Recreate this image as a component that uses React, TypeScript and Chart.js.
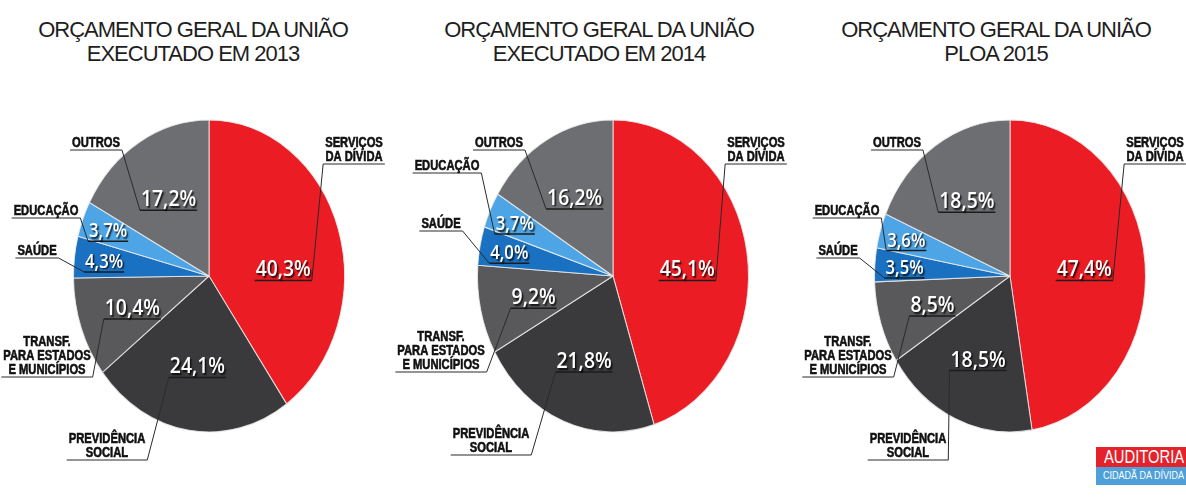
import React, { useEffect, useRef } from 'react';
import { Chart, registerables } from 'chart.js';

Chart.register(...registerables);

// ---------- DATA ----------
const categories = [
  'SERVIÇOS DA DÍVIDA',
  'PREVIDÊNCIA SOCIAL',
  'TRANSF. PARA ESTADOS E MUNICÍPIOS',
  'SAÚDE',
  'EDUCAÇÃO',
  'OUTROS',
];
const categoryLines = [
  ['SERVIÇOS', 'DA DÍVIDA'],
  ['PREVIDÊNCIA', 'SOCIAL'],
  ['TRANSF.', 'PARA ESTADOS', 'E MUNICÍPIOS'],
  ['SAÚDE'],
  ['EDUCAÇÃO'],
  ['OUTROS'],
];
const values2013 = [40.3, 24.1, 10.4, 4.3, 3.7, 17.2];
const values2014 = [45.1, 21.8, 9.2, 4.0, 3.7, 16.2];
const values2015 = [47.4, 18.5, 8.5, 3.5, 3.6, 18.5];
const titles2013 = ['ORÇAMENTO GERAL DA UNIÃO', 'EXECUTADO EM 2013'];
const titles2014 = ['ORÇAMENTO GERAL DA UNIÃO', 'EXECUTADO EM 2014'];
const titles2015 = ['ORÇAMENTO GERAL DA UNIÃO', 'PLOA 2015'];

// ---------- STYLE / LAYOUT ----------
const sliceColors = ['#ec1c24', '#3a3a3c', '#59595b', '#1a71c1', '#4ea5e5', '#6d6e71'];
const PIE_CY = 276;
const RX = 135;
const RY = 156;
const CANVAS_W = 470;
const CANVAS_H = 498;
const HALF = 235;

const labelFrac = [0.55, 0.58, 0.6, 0.78, 0.8, 0.58];
const labelAngleDeg: (number | null)[] = [85, null, null, null, null, null];
const pctFontSize = [22, 22, 22, 19, 19, 22];
const PCT_SX = 0.88;

type Ext = { dx: number; dy: number };
const extLayoutA: Ext[] = [
  { dx: 145, dy: -134 },
  { dx: -102, dy: 162 },
  { dx: -162, dy: 65 },
  { dx: -172, dy: -26 },
  { dx: -163, dy: -66 },
  { dx: -113, dy: -134 },
];
const extLayoutB: Ext[] = [
  { dx: 143, dy: -134 },
  { dx: -122, dy: 157 },
  { dx: -172, dy: 60 },
  { dx: -172, dy: -53 },
  { dx: -166, dy: -111 },
  { dx: -114, dy: -134 },
];

const fmt = (v: number) => v.toFixed(1).replace('.', ',') + '%';

const stretchPlugin = {
  id: 'stretch',
  beforeDatasetsDraw(chart: any) {
    const arc = chart.getDatasetMeta(0).data[0];
    if (!arc) return;
    const { x, y, outerRadius } = arc as any;
    const k = RY / outerRadius;
    const ctx = chart.ctx;
    ctx.save();
    ctx.translate(x, y);
    ctx.scale(1, k);
    ctx.translate(-x, -y);
  },
  afterDatasetsDraw(chart: any) {
    chart.ctx.restore();
  },
};

const labelsPlugin = {
  id: 'pieLabels',
  afterDraw(chart: any) {
    const ctx: CanvasRenderingContext2D = chart.ctx;
    const meta = chart.getDatasetMeta(0);
    const data: number[] = chart.data.datasets[0].data;
    const layout: Ext[] = chart.options.plugins.pieLabels.layout;
    const EXT_FONT = "bold 14px 'Liberation Sans', Arial, sans-serif";
    const EXT_SX = 0.8;
    const LINE_H = 14;
    const pctFont = (fs: number) => `600 ${fs}px 'Open Sans', sans-serif`;

    const items: any[] = [];
    meta.data.forEach((arc: any, i: number) => {
      const { x, y, startAngle, endAngle, outerRadius } = arc;
      const k = RY / outerRadius;
      const a =
        labelAngleDeg[i] != null
          ? ((labelAngleDeg[i] as number) - 90) * (Math.PI / 180)
          : (startAngle + endAngle) / 2;
      const px = x + Math.cos(a) * outerRadius * labelFrac[i];
      const py = y + Math.sin(a) * outerRadius * labelFrac[i] * k;
      const fs = pctFontSize[i];
      const txt = fmt(data[i]);
      ctx.font = pctFont(fs);
      const pw = ctx.measureText(txt).width * PCT_SX;
      const pBase = py + fs * 0.36;
      const pUnder = pBase + 4;

      const ext = layout[i];
      const lines = categoryLines[i];
      ctx.font = EXT_FONT;
      const widths = lines.map((l) => ctx.measureText(l).width * EXT_SX);
      const maxW = Math.max(...widths);
      const lx = x + ext.dx;
      const firstC = y + ext.dy;
      const lastBase = firstC + (lines.length - 1) * LINE_H + 5;
      const uy = lastBase + 3;
      const hw = maxW / 2 + 2;
      items.push({ px, py, pw, pBase, pUnder, fs, txt, lx, firstC, uy, hw, lines, right: ext.dx > 0 });
    });

    ctx.save();
    // leaders + underlines
    items.forEach((it) => {
      ctx.strokeStyle = '#2a2a2a';
      ctx.lineWidth = 1;
      ctx.beginPath();
      ctx.moveTo(it.lx - it.hw, it.uy);
      ctx.lineTo(it.lx + it.hw, it.uy);
      ctx.stroke();
      const pL = it.px - it.pw / 2 - 1;
      const pR = it.px + it.pw / 2 + 1;
      ctx.beginPath();
      if (it.right) {
        ctx.moveTo(it.lx - it.hw, it.uy);
        ctx.lineTo(pR, it.pUnder);
      } else {
        ctx.moveTo(it.lx + it.hw, it.uy);
        ctx.lineTo(pL, it.pUnder);
      }
      ctx.stroke();
      ctx.strokeStyle = '#1c1c1c';
      ctx.lineWidth = 1.5;
      ctx.beginPath();
      ctx.moveTo(pL, it.pUnder);
      ctx.lineTo(pR, it.pUnder);
      ctx.stroke();
    });
    // external texts
    ctx.fillStyle = '#111';
    ctx.strokeStyle = '#111';
    ctx.lineWidth = 0.6;
    ctx.font = EXT_FONT;
    ctx.textAlign = 'center';
    ctx.textBaseline = 'alphabetic';
    items.forEach((it) => {
      it.lines.forEach((l: string, j: number) => {
        ctx.save();
        ctx.translate(it.lx, it.firstC + j * LINE_H + 5);
        ctx.scale(EXT_SX, 1);
        ctx.fillText(l, 0, 0);
        ctx.strokeText(l, 0, 0);
        ctx.restore();
      });
    });
    // percentages
    items.forEach((it) => {
      ctx.save();
      ctx.font = pctFont(it.fs);
      ctx.textAlign = 'center';
      ctx.textBaseline = 'alphabetic';
      ctx.translate(it.px, it.pBase);
      ctx.scale(PCT_SX, 1);
      ctx.shadowColor = 'rgba(0,0,0,0.8)';
      ctx.shadowOffsetX = 1.5;
      ctx.shadowOffsetY = 1.5;
      ctx.shadowBlur = 1.5;
      ctx.fillStyle = '#ffffff';
      ctx.fillText(it.txt, 0, 0);
      ctx.restore();
    });
    ctx.restore();
  },
};

function PieChart({ values, layout, cx }: { values: number[]; layout: Ext[]; cx: number }) {
  const ref = useRef<HTMLCanvasElement | null>(null);
  useEffect(() => {
    if (!ref.current) return;
    const chart = new Chart(ref.current, {
      type: 'pie',
      data: {
        labels: categories,
        datasets: [
          {
            data: values,
            backgroundColor: sliceColors,
            borderColor: 'rgba(235,235,235,0.85)',
            borderWidth: 1,
            clip: false as any,
          },
        ],
      },
      options: {
        responsive: false,
        maintainAspectRatio: false,
        animation: false,
        layout: {
          padding: {
            left: HALF - RX - 1,
            right: CANVAS_W - HALF - RX - 1,
            top: PIE_CY - RX - 1,
            bottom: CANVAS_H - PIE_CY - RX - 1,
          },
        },
        plugins: {
          legend: { display: false },
          tooltip: { enabled: false },
          title: { display: false },
          pieLabels: { layout },
        } as any,
      },
      plugins: [stretchPlugin, labelsPlugin],
    });
    return () => chart.destroy();
  }, [values, layout]);
  return (
    <canvas
      ref={ref}
      width={CANVAS_W}
      height={CANVAS_H}
      style={{ position: 'absolute', left: cx - HALF, top: 0, width: CANVAS_W, height: CANVAS_H }}
    />
  );
}

function Title({ lines, cx }: { lines: string[]; cx: number }) {
  return (
    <div
      style={{
        position: 'absolute',
        left: cx - 220,
        top: 18,
        width: 440,
        textAlign: 'center',
        fontFamily: "'Liberation Sans', Arial, sans-serif",
        fontSize: 22,
        lineHeight: '24px',
        letterSpacing: '-1px',
        color: '#1e1e1e',
      }}
    >
      {lines.map((l, i) => (
        <div key={i}>{l}</div>
      ))}
    </div>
  );
}

export default function App() {
  return (
    <div
      style={{
        position: 'fixed',
        left: 0,
        top: 0,
        width: 1186,
        height: 498,
        overflow: 'hidden',
        background: '#ffffff',
      }}
    >
      <Title lines={titles2013} cx={193} />
      <Title lines={titles2014} cx={599} />
      <Title lines={titles2015} cx={996} />
      <PieChart values={values2013} layout={extLayoutA} cx={209} />
      <PieChart values={values2014} layout={extLayoutB} cx={613} />
      <PieChart values={values2015} layout={extLayoutA} cx={1010} />
      <div style={{ position: 'absolute', left: 1096, top: 447, width: 90, height: 38, overflow: 'hidden' }}>
        <div style={{ height: 20, background: '#e3222b', position: 'relative' }}>
          <span
            style={{
              position: 'absolute',
              left: 8,
              top: 0,
              color: '#fff',
              fontFamily: "'Liberation Sans', Arial, sans-serif",
              fontSize: 18,
              lineHeight: '20px',
              whiteSpace: 'nowrap',
              transform: 'scaleX(0.82)',
              transformOrigin: 'left center',
            }}
          >
            AUDITORIA
          </span>
        </div>
        <div style={{ height: 18, background: '#4f9fd8', position: 'relative' }}>
          <span
            style={{
              position: 'absolute',
              left: 7,
              top: 0,
              color: '#fff',
              fontFamily: "'Liberation Sans', Arial, sans-serif",
              fontSize: 10,
              lineHeight: '18px',
              whiteSpace: 'nowrap',
              transform: 'scaleX(0.9)',
              transformOrigin: 'left center',
            }}
          >
            CIDADÃ DA DÍVIDA
          </span>
        </div>
      </div>
    </div>
  );
}
